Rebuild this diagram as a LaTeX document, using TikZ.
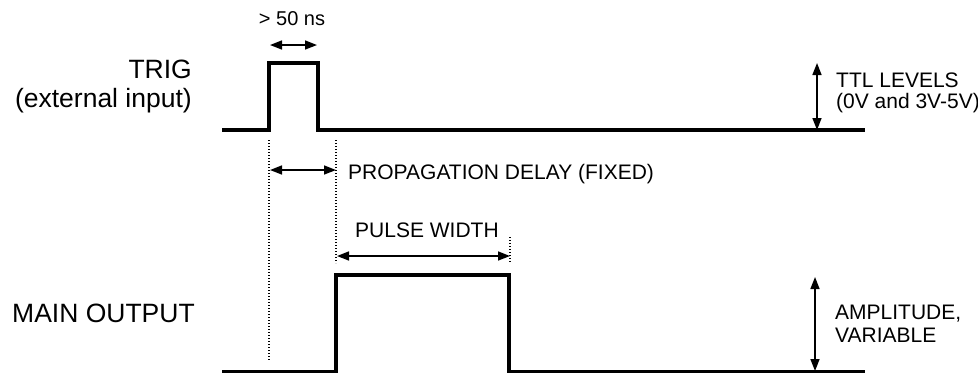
\documentclass[tikz,border=0pt]{standalone}
\usepackage{fontspec}
\setmainfont{Liberation Sans}
\usetikzlibrary{arrows.meta}
\tikzset{
  signal/.style={line width=3.2pt, line join=miter, line cap=butt},
  dim/.style={line width=1.6pt, {Triangle[length=12pt,width=9pt]}-{Triangle[length=12pt,width=9pt]}},
  guide/.style={line width=1.3pt, dash pattern=on 1.3pt off 1.7pt},
  big/.style={inner sep=0pt, font=\fontsize{26.5}{30}\selectfont},
  small/.style={inner sep=0pt, font=\fontsize{21}{24}\selectfont},
}
\begin{document}
\begin{tikzpicture}[x=1pt,y=-1pt]
\useasboundingbox (0,0) rectangle (978,373);
% trig signal
\coordinate (t0) at (222,130);
\coordinate (t1) at (269,130);
\coordinate (t2) at (269,63);
\coordinate (t3) at (318,63);
\coordinate (t4) at (318,130);
\coordinate (t5) at (865,130);
\draw[signal] (t0) -- (t1) -- (t2) -- (t3) -- (t4) -- (t5);
% main output
\coordinate (m0) at (222,371.5);
\coordinate (m1) at (336,371.5);
\coordinate (m2) at (336,275);
\coordinate (m3) at (509,275);
\coordinate (m4) at (509,371.5);
\coordinate (m5) at (865,371.5);
\draw[signal] (m0) -- (m1) -- (m2) -- (m3) -- (m4) -- (m5);
% guides
\coordinate (g1a) at (269,140); \coordinate (g1b) at (269,360);
\coordinate (g2a) at (336,140); \coordinate (g2b) at (336,263);
\coordinate (g3a) at (510,237); \coordinate (g3b) at (510,263);
\draw[guide] (g1a) -- (g1b);
\draw[guide] (g2a) -- (g2b);
\draw[guide] (g3a) -- (g3b);
% dimension arrows
\coordinate (w1) at (270,45); \coordinate (w2) at (317,45);
\draw[dim] (w1) -- (w2);
\coordinate (p1) at (270,170); \coordinate (p2) at (336,170);
\draw[dim] (p1) -- (p2);
\coordinate (q1) at (337,256); \coordinate (q2) at (510,256);
\draw[dim] (q1) -- (q2);
\coordinate (l1) at (817,63); \coordinate (l2) at (817,130);
\draw[dim] (l1) -- (l2);
\coordinate (a1) at (815,277); \coordinate (a2) at (815,371);
\draw[dim] (a1) -- (a2);
% labels
\node[big, anchor=base east] (trig) at (192,78) {TRIG};
\node[big, anchor=base east] (ext) at (192,107) {(external input)};
\node[big, anchor=base west] (main) at (12,322) {MAIN OUTPUT};
\node[small, anchor=base, font=\fontsize{20}{24}\selectfont] (ns) at (292,25) {> 50 ns};
\node[small, anchor=base west] (prop) at (348,179) {PROPAGATION DELAY (FIXED)};
\node[small, anchor=base west] (pw) at (355,237) {PULSE WIDTH};
\node[small, anchor=base west] (ttl) at (836,87) {TTL LEVELS};
\node[small, anchor=base west] (lev) at (836,108) {(0V and 3V-5V)};
\node[small, anchor=base west] (amp) at (835,319) {AMPLITUDE,};
\node[small, anchor=base west] (var) at (835,342) {VARIABLE};
\end{tikzpicture}
\end{document}
